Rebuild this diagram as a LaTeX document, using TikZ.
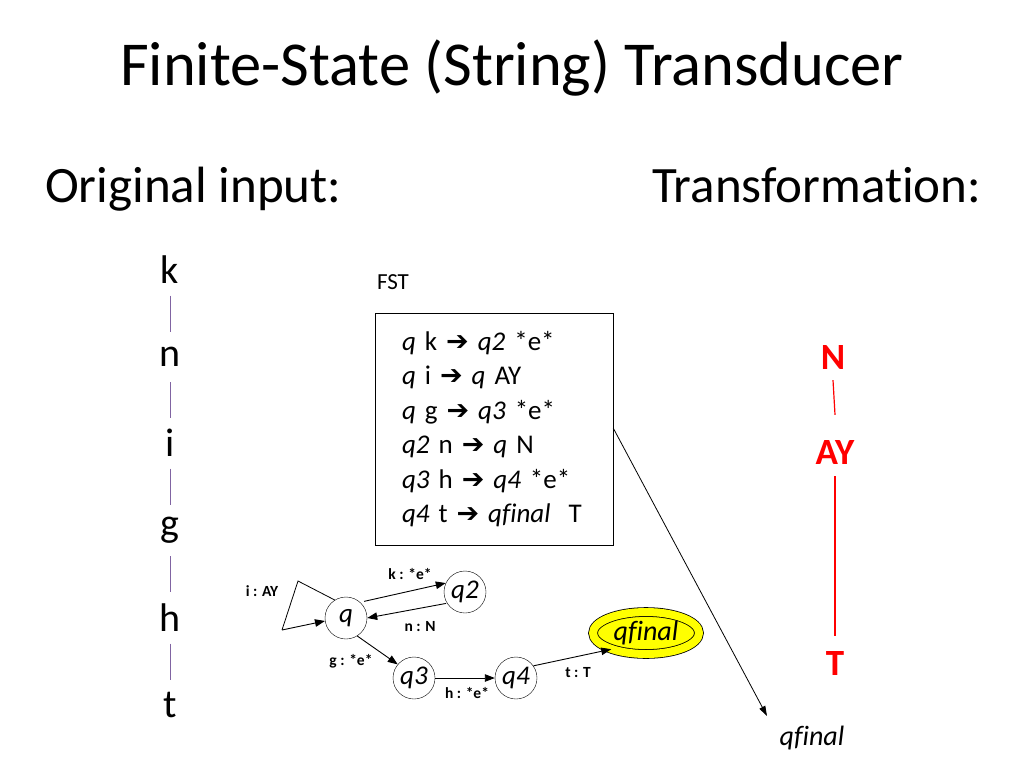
\documentclass[tikz,border=0pt]{standalone}
\usepackage{fontspec}
\usepackage{tikz}
\setmainfont{Carlito}[Ligatures=NoCommon]
\newfontfamily\arrowfont{DejaVu Sans}
\usetikzlibrary{
  arrows.meta,
  shapes,
  shapes.geometric,
  positioning,
  calc
}
\definecolor{fsRed}{HTML}{FF0000}
\definecolor{fsLink}{HTML}{8064A2}
\definecolor{fsFinal}{HTML}{FFFF00}
\newcommand{\ra}{{\arrowfont\char"2794}}
\tikzset{
  heading/.style={font=\fontsize{51}{56}\selectfont, anchor=base west, inner sep=0pt},
  inletter/.style={font=\fontsize{40}{44}\selectfont, inner sep=0pt},
  outletter/.style={font=\fontsize{37}{40}\selectfont\bfseries, text=fsRed, inner sep=0pt},
  state/.style={draw, circle, minimum size=42pt, inner sep=0pt, font=\fontsize{27}{30}\selectfont\itshape},
  finalstate/.style={draw, ellipse, fill=fsFinal, minimum width=106pt, minimum height=42pt,
    inner sep=0pt, double=fsFinal, double distance=8pt, line width=0.8pt,
    font=\fontsize{28}{30}\selectfont\itshape},
  rulebox/.style={draw, minimum width=238pt, minimum height=232pt, inner xsep=27pt, text width=184pt,
    align=left, font=\fontsize{27}{34.5}\selectfont},
  trans/.style={-{Triangle[length=10pt, width=7.5pt]}, line width=0.9pt},
  plain/.style={line width=0.8pt},
  tlabel/.style={font=\fontsize{15.5}{17}\selectfont\bfseries, inner sep=1pt},
  inlink/.style={fsLink, line width=0.9pt},
  outlink/.style={fsRed, line width=1.2pt}
}

\begin{document}
\begin{tikzpicture}[x=1pt, y=-1pt]
  \useasboundingbox (0,0) rectangle (1024,768);

  % headings
  \node[font=\fontsize{62.5}{68}\selectfont, inner sep=0pt] (title) at (512,68) {Finite-State (String) Transducer};
  \node[heading] (orig) at (45,202) {Original input:};
  \node[heading] (trans) at (652,202) {Transformation:};

  % input string
  \node[inletter] (ik) at (170,270) {k};
  \node[inletter] (in) at (170,357) {n};
  \node[inletter] (ii) at (170,443) {i};
  \node[inletter] (ig) at (170,530) {g};
  \node[inletter] (ih) at (170,618) {h};
  \node[inletter] (it) at (170,705) {t};
  \foreach \a/\b in {ik/in, in/ii, ii/ig, ig/ih, ih/it}
    \draw[inlink] ($(\a)!0.5!(\b)+(0,-18)$) -- ($(\a)!0.5!(\b)+(0,18)$);

  % rules
  \node[font=\fontsize{23}{26}\selectfont, inner sep=0pt] (fst) at (393,282) {FST};
  \node[rulebox] (rules) at (494,429) {%
    \textit{q} k \ra{} \textit{q2} *e*\\
    \textit{q} i \ra{} \textit{q} AY\\
    \textit{q} g \ra{} \textit{q3} *e*\\
    \textit{q2} n \ra{} \textit{q} N\\
    \textit{q3} h \ra{} \textit{q4} *e*\\
    \textit{q4} t \ra{} \textit{qfinal}\ \ T};

  % automaton
  \node[state] (q) at (346,618) {q};
  \node[state] (q2) at (465,592) {q2};
  \node[state] (q3) at (414,678) {q3};
  \node[state] (q4) at (516,678) {q4};
  \node[finalstate] (qf) at (646,633) {qfinal};

  \coordinate (loopa) at (298,581);
  \coordinate (loopb) at (282,630);
  \draw[plain] (q.122) -- (loopa) -- (loopb);
  \draw[trans] (loopb) -- (q.188);
  \draw[trans, shorten <=4pt] (q.48) -- (q2.155);
  \draw[trans, shorten <=1pt] (q2.212) -- (q.0);
  \draw[trans] (q.302) -- (q3.140);
  \draw[trans] (q3.east) -- (q4.west);
  \draw[trans] (q4.35) -- (qf.205);

  \node[tlabel] (li) at (262,591) {i : AY};
  \node[tlabel] (lk) at (410,574) {k : *e*};
  \node[tlabel] (ln) at (420,627) {n : N};
  \node[tlabel] (lg) at (351,661) {g : *e*};
  \node[tlabel] (lh) at (467,693) {h : *e*};
  \node[tlabel] (lt) at (578,673) {t : T};

  % result
  \node[font=\fontsize{28}{30}\selectfont\itshape, inner sep=0pt] (res) at (812,738) {qfinal};
  \coordinate (resend) at (767,716);
  \draw[-{Triangle[length=10pt, width=6.5pt]}, line width=0.8pt] (rules.east |- 0,428) -- (resend);

  % output string
  \node[outletter] (oN) at (833,357) {N};
  \node[outletter] (oAY) at (835,452) {AY};
  \node[outletter] (oT) at (835,663) {T};
  \draw[outlink] ($(oN.south)+(0,11)$) -- ($(oAY.north)+(0,-25)$);
  \draw[outlink] ($(oAY.south)+(0,12)$) -- ($(oT.north)+(0,-15)$);
\end{tikzpicture}
\end{document}
